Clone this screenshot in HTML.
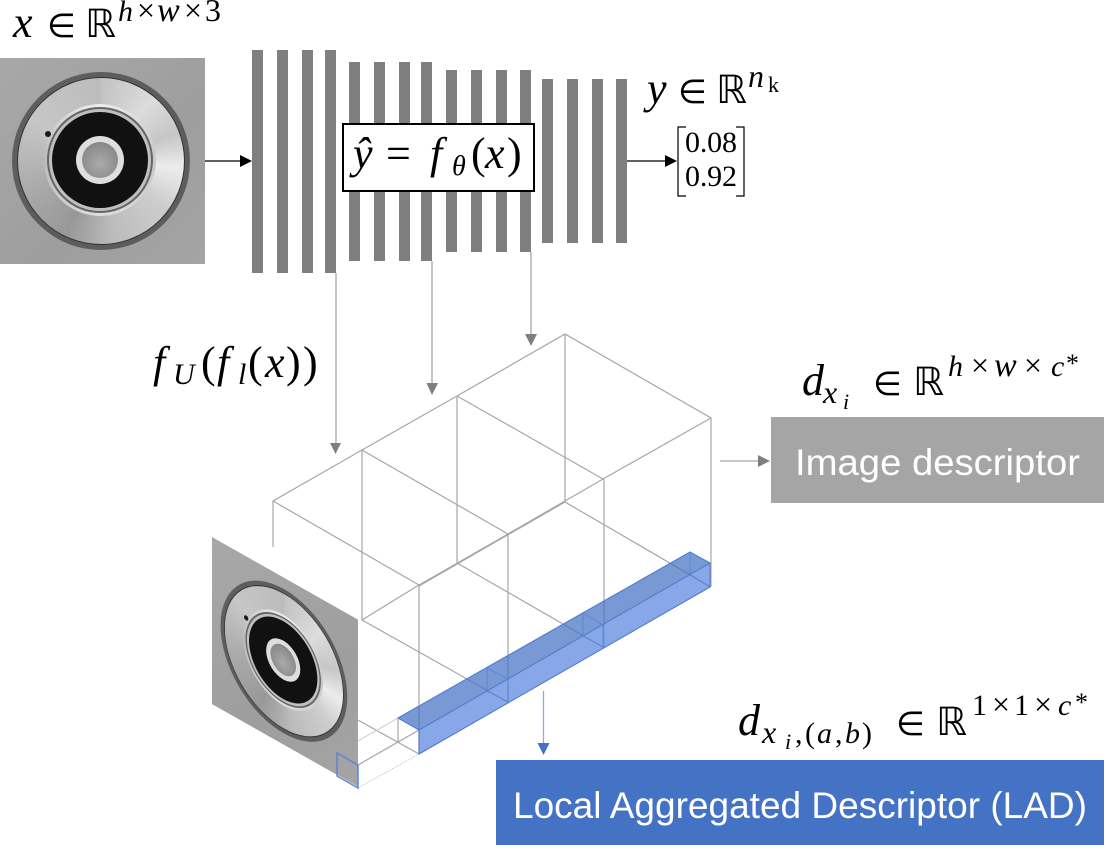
<!DOCTYPE html>
<html>
<head>
<meta charset="utf-8">
<style>
html,body{margin:0;padding:0;background:#fff;}
#wrap{position:relative;width:1114px;height:852px;overflow:hidden;background:#fff;}
svg{position:absolute;left:0;top:0;}
.img{position:absolute;left:0;top:0;width:205px;height:206px;background:linear-gradient(135deg,#a8a8a8,#9e9e9e 60%,#a4a4a4);overflow:hidden;transform-origin:0 0;}
.c{position:absolute;border-radius:50%;}
.shadow{left:12px;top:14px;width:178px;height:178px;background:radial-gradient(circle,rgba(70,70,70,.75) 88%,rgba(90,90,90,.3) 94%,rgba(140,140,140,0) 100%);}
.d1{left:17px;top:19px;width:168px;height:168px;box-sizing:border-box;border:1px solid #333;background:conic-gradient(#c2c2c2 0deg,#dcdcdc 40deg,#c6c6c6 70deg,#ececec 95deg,#cdcdcd 125deg,#bcbcbc 170deg,#989898 205deg,#ababab 250deg,#c6c6c6 300deg,#bcbcbc 360deg);}
.d2{left:44px;top:46px;width:112px;height:112px;background:conic-gradient(#eee,#c8c8c8 90deg,#dedede 180deg,#bbb 270deg,#eee);}
.d3{left:47px;top:49px;width:106px;height:106px;background:#666;}
.d4{left:49px;top:51px;width:102px;height:102px;background:#c0c0c0;}
.d5{left:52px;top:54px;width:96px;height:96px;background:#111;}
.d6{left:76px;top:78px;width:48px;height:48px;background:#dedede;}
.d7{left:82px;top:84px;width:36px;height:36px;background:radial-gradient(circle at 50% 60%,#aaa,#8a8a8a 70%,#6a6a6a);}
.d8{left:45px;top:73px;width:6px;height:6px;background:#1a1a1a;}
</style>
</head>
<body>
<div id="wrap">

<svg width="1114" height="852" viewBox="0 0 1114 852">
  <!-- network bars -->
  <g fill="#7f7f7f">
    <rect x="252" y="50" width="11" height="223"/><rect x="277" y="50" width="11" height="223"/><rect x="302" y="50" width="11" height="223"/><rect x="325" y="50" width="11" height="223"/>
    <rect x="349" y="62" width="11" height="199"/><rect x="374" y="62" width="11" height="199"/><rect x="399" y="62" width="11" height="199"/><rect x="421" y="62" width="11" height="199"/>
    <rect x="446" y="70" width="11" height="182"/><rect x="471" y="70" width="11" height="182"/><rect x="496" y="70" width="11" height="182"/><rect x="520" y="70" width="11" height="182"/>
    <rect x="542" y="79" width="11" height="164"/><rect x="567" y="79" width="11" height="164"/><rect x="592" y="79" width="11" height="164"/><rect x="616" y="79" width="11" height="164"/>
  </g>
  <rect x="343" y="124" width="191" height="67" fill="#fff" stroke="#000" stroke-width="2"/>

  <!-- black arrows -->
  <line x1="205" y1="161" x2="242" y2="161" stroke="#000" stroke-width="1.3"/>
  <polygon points="240,155 252,161 240,167" fill="#000"/>
  <line x1="627" y1="161" x2="667" y2="161" stroke="#000" stroke-width="1.3"/>
  <polygon points="665,155 677,161 665,167" fill="#000"/>

  <!-- wireframe -->
  <g stroke="#a6a6a6" stroke-width="1.2" fill="none">
    <polyline points="273,547 273,501 362,450 457,396 565,334 711,418 711,587"/>
    <polyline points="711,418 603,479 508,534 419,585 362,620"/>
    <line x1="419" y1="586" x2="565" y2="502"/>
    <line x1="273" y1="501" x2="419" y2="585"/>
    <line x1="362" y1="450" x2="508" y2="534"/>
    <line x1="457" y1="396" x2="603" y2="479"/>
    <line x1="362" y1="450" x2="362" y2="620"/>
    <line x1="457" y1="396" x2="457" y2="563"/>
    <line x1="565" y1="334" x2="565" y2="502"/>
    <line x1="419" y1="585" x2="419" y2="754"/>
    <line x1="508" y1="534" x2="508" y2="702"/>
    <line x1="604" y1="479" x2="604" y2="647"/>
    <line x1="362" y1="620" x2="508" y2="702"/>
    <line x1="457" y1="563" x2="603" y2="647"/>
    <line x1="565" y1="502" x2="711" y2="587"/>
    <line x1="358" y1="720" x2="419" y2="754"/>
    <line x1="358" y1="765" x2="419" y2="730"/>
    <line x1="398" y1="718" x2="398" y2="742"/>
  </g>
  <line x1="358" y1="741" x2="398" y2="718" stroke="#c8c8c8" stroke-width="1"/>
  <line x1="358" y1="788" x2="419" y2="754" stroke="#d0d0d0" stroke-width="1" stroke-dasharray="2 1"/>

  <!-- gray arrows -->
  <g stroke="#a6a6a6" stroke-width="1.3">
    <line x1="336" y1="273" x2="336" y2="444"/>
    <line x1="432" y1="261" x2="432" y2="384"/>
    <line x1="531" y1="252" x2="531" y2="335"/>
    <line x1="720" y1="461" x2="759" y2="461"/>
  </g>
  <g fill="#7f7f7f">
    <polygon points="330,443 341,443 335.500,454"/>
    <polygon points="426.500,383 438,383 432,395"/>
    <polygon points="525,334 537,334 531,346"/>
    <polygon points="758,455 758,467 770,461"/>
  </g>
</svg>

<!-- flat part image -->
<div class="img" style="left:0;top:58px;">
  <div class="c shadow"></div><div class="c d1"></div><div class="c d2"></div><div class="c d3"></div><div class="c d4"></div><div class="c d5"></div><div class="c d6"></div><div class="c d7"></div><div class="c d8"></div>
</div>

<!-- projected part image -->
<div class="img" style="transform:matrix(.712,.403,0,.811,212,537);">
  <div class="c shadow"></div><div class="c d1"></div><div class="c d2"></div><div class="c d3"></div><div class="c d4"></div><div class="c d5"></div><div class="c d6"></div><div class="c d7"></div><div class="c d8"></div>
</div>

<svg width="1114" height="852" viewBox="0 0 1114 852">
  <!-- blue column -->
  <polygon points="398,718 690,552 710,563 419,730" fill="#4472c4" fill-opacity=".72"/>
  <polygon points="419,730 710,563 710,587 419,754" fill="#5f8ae0" fill-opacity=".75"/>
  <g stroke="#4f7cd0" stroke-width="1.1" fill="none">
    <polygon points="398,718 690,552 710,563 419,730"/>
    <polyline points="419,730 419,754 710,587 710,563"/>
  </g>
  <g stroke="#4f7cd0" stroke-width=".9" fill="none" stroke-opacity=".75">
    <polyline points="690,552 690,575 710,587"/>
    <polyline points="583,613 583,636 603,647 603,625 583,613"/>
    <polyline points="487,668 487,691 508,702 508,679 487,668"/>
  </g>
  <polygon points="337,753 358,765 358,788 337,776" fill="none" stroke="#5b86d8" stroke-width="1.5"/>

  <!-- blue arrow -->
  <line x1="543.500" y1="691" x2="543.500" y2="745" stroke="#8eaadb" stroke-width="1.3"/>
  <polygon points="537.500,743 549.500,743 543.500,755" fill="#4472c4"/>

  <!-- descriptor boxes -->
  <rect x="771" y="417" width="333" height="86" fill="#a5a5a5"/>
  <rect x="496" y="760" width="608" height="85" fill="#4472c4"/>
  <g font-family="'Liberation Sans',sans-serif" fill="#fff">
    <text x="795" y="475" font-size="37" textLength="285" lengthAdjust="spacingAndGlyphs">Image descriptor</text>
    <text x="513" y="818" font-size="37" textLength="574" lengthAdjust="spacingAndGlyphs">Local Aggregated Descriptor (LAD)</text>
  </g>

  <!-- math labels -->
  <g font-family="'Liberation Serif',serif" fill="#000">
    <!-- x in R^{h x w x 3} -->
    <text x="13" y="37" font-size="44" font-style="italic">x</text>
    <text x="47" y="37" font-family="'DejaVu Sans',sans-serif" font-size="33">∈</text>
    <text x="85" y="37" font-family="'DejaVu Sans',sans-serif" font-size="39">ℝ</text>
    <g font-size="30">
      <text x="118" y="21" font-style="italic">h</text>
      <text x="137" y="21" font-size="32">×</text>
      <text x="157" y="21" font-style="italic" font-size="34">w</text>
      <text x="184" y="21" font-size="32">×</text>
      <text x="205" y="21" font-size="32">3</text>
    </g>

    <!-- y-hat = f(x) -->
    <g font-size="44">
      <text x="353" y="168" font-style="italic">ŷ</text>
      <text x="386" y="168">=</text>
      <text x="430" y="168" font-style="italic">f</text>
      <text x="471" y="168">(</text>
      <text x="485" y="168" font-style="italic">x</text>
      <text x="507" y="168">)</text>
    </g>
    <text x="452" y="175" font-size="28" font-style="italic">θ</text>

    <!-- y in R^{n_k} -->
    <text x="647" y="103" font-size="44" font-style="italic">y</text>
    <text x="678" y="103" font-family="'DejaVu Sans',sans-serif" font-size="33">∈</text>
    <text x="716" y="103" font-family="'DejaVu Sans',sans-serif" font-size="39">ℝ</text>
    <text x="748" y="87" font-size="32" font-style="italic">n</text>
    <text x="768" y="92" font-size="22">k</text>

    <!-- matrix -->
    <text x="685" y="152" font-size="30" textLength="52">0.08</text>
    <text x="685" y="186" font-size="30" textLength="52">0.92</text>

    <!-- f_U(f_l(x)) -->
    <g font-size="44">
      <text x="153" y="377" font-style="italic">f</text>
      <text x="201" y="377">(</text>
      <text x="217" y="377" font-style="italic">f</text>
      <text x="248" y="377">(</text>
      <text x="265" y="377" font-style="italic">x</text>
      <text x="286" y="377">)</text>
      <text x="303" y="377">)</text>
    </g>
    <text x="173" y="384" font-size="30" font-style="italic">U</text>
    <text x="238" y="384" font-size="30" font-style="italic">l</text>

    <!-- d_{x_i} -->
    <text x="802" y="395" font-size="44" font-style="italic">d</text>
    <text x="823" y="403" font-size="32" font-style="italic">x</text>
    <text x="843" y="409" font-size="22" font-style="italic">i</text>
    <text x="873" y="395" font-family="'DejaVu Sans',sans-serif" font-size="33">∈</text>
    <text x="913" y="395" font-family="'DejaVu Sans',sans-serif" font-size="39">ℝ</text>
    <g font-size="30">
      <text x="948" y="376" font-style="italic">h</text>
      <text x="971" y="376" font-size="32">×</text>
      <text x="994" y="376" font-style="italic" font-size="34">w</text>
      <text x="1024" y="376" font-size="32">×</text>
      <text x="1051" y="376" font-style="italic">c</text>
      <text x="1066" y="372" font-size="26">*</text>
    </g>

    <!-- d_{x_i,(a,b)} -->
    <text x="738" y="735" font-size="44" font-style="italic">d</text>
    <text x="762" y="743" font-size="32" font-style="italic">x</text>
    <text x="785" y="749" font-size="22" font-style="italic">i</text>
    <text x="795" y="743" font-size="30">,</text>
    <text x="805" y="743" font-size="30">(</text>
    <text x="817" y="743" font-size="30" font-style="italic">a</text>
    <text x="835" y="743" font-size="30">,</text>
    <text x="845" y="743" font-size="30" font-style="italic">b</text>
    <text x="862" y="743" font-size="30">)</text>
    <text x="896" y="735" font-family="'DejaVu Sans',sans-serif" font-size="33">∈</text>
    <text x="936" y="735" font-family="'DejaVu Sans',sans-serif" font-size="39">ℝ</text>
    <g font-size="30">
      <text x="972" y="715">1</text>
      <text x="992" y="715" font-size="32">×</text>
      <text x="1014" y="715">1</text>
      <text x="1034" y="715" font-size="32">×</text>
      <text x="1058" y="715" font-style="italic">c</text>
      <text x="1075" y="711" font-size="26">*</text>
    </g>
  </g>

  <!-- matrix brackets -->
  <g fill="none" stroke="#000" stroke-width="1.2">
    <polyline points="686,127 678,127 678,196 686,196"/>
    <polyline points="736,127 744,127 744,196 736,196"/>
  </g>
</svg>

</div>
</body>
</html>
